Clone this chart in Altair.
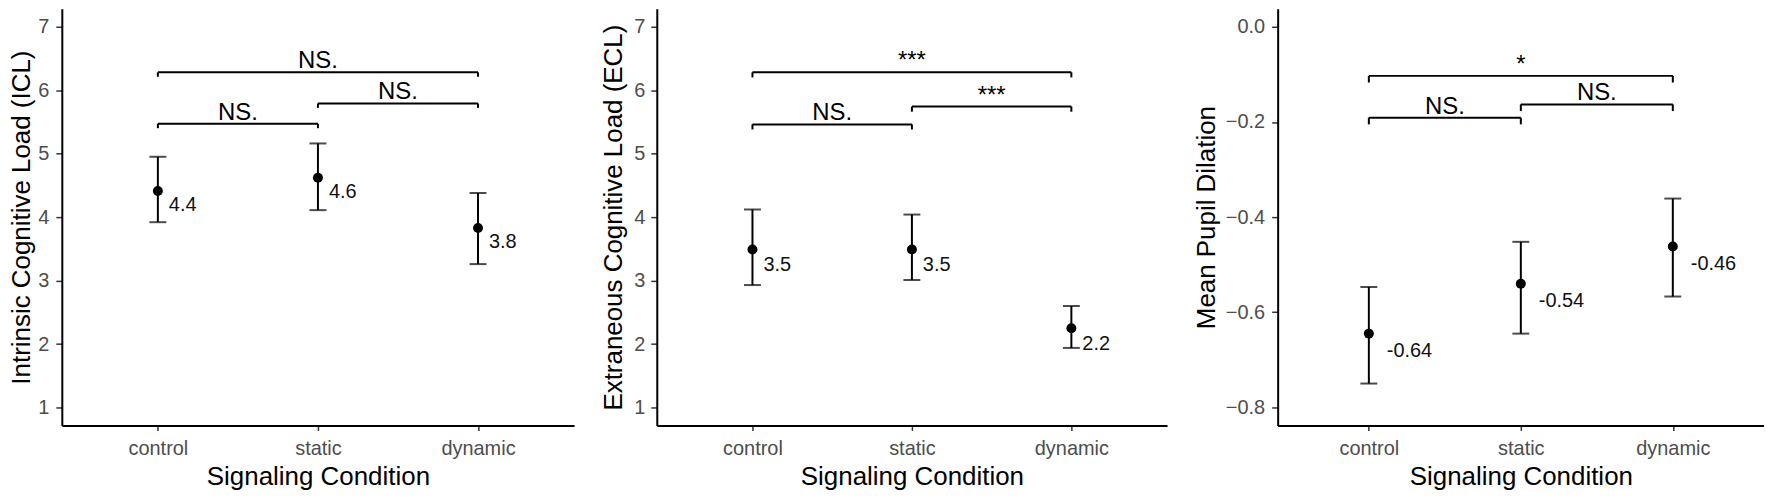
import altair as alt
import pandas as pd

conditions = ["control", "static", "dynamic"]

icl_mean = [4.41, 4.62, 3.83]
icl_lo = [3.92, 4.11, 3.26]
icl_hi = [4.95, 5.16, 4.38]
icl_labels = ["4.4", "4.6", "3.8"]

ecl_mean = [3.49, 3.49, 2.25]
ecl_lo = [2.93, 3.01, 1.94]
ecl_hi = [4.12, 4.04, 2.60]
ecl_labels = ["3.5", "3.5", "2.2"]

pupil_mean = [-0.645, -0.540, -0.462]
pupil_lo = [-0.750, -0.645, -0.567]
pupil_hi = [-0.547, -0.452, -0.361]
pupil_labels = ["-0.64", "-0.54", "-0.46"]

bracket_from = ["control", "static", "control"]
bracket_to = ["static", "dynamic", "dynamic"]
icl_bracket_y = [5.47, 5.79, 6.28]
icl_bracket_text = ["NS.", "NS.", "NS."]
ecl_bracket_y = [5.46, 5.74, 6.28]
ecl_bracket_text = ["NS.", "***", "***"]
pupil_bracket_y = [-0.191, -0.163, -0.103]
pupil_bracket_text = ["NS.", "NS.", "*"]

FONT = "Liberation Sans"


def panel(mean, lo, hi, labels, by, btext, title, domain, ticks, fmt, tip,
          ldx, ldy, width, label_pad, title_pad):
    pts = pd.DataFrame({
        "cond": conditions,
        "idx": [conditions.index(c) + 1 for c in conditions],
        "mean": mean, "lo": lo, "hi": hi, "label": labels,
    })
    x1 = [conditions.index(c) + 1 for c in bracket_from]
    x2 = [conditions.index(c) + 1 for c in bracket_to]
    br = pd.DataFrame({
        "x1": x1, "x2": x2,
        "xm": [(a + b) / 2 for a, b in zip(x1, x2)],
        "y": by,
        "ytip": [v - tip for v in by],
        "text": btext,
    })
    xscale = alt.Scale(domain=[0.4, 3.6], nice=False, zero=False)
    yscale = alt.Scale(domain=domain, nice=False, zero=False)
    xaxis = alt.Axis(values=[1, 2, 3], title="Signaling Condition",
                     labelExpr="['control','static','dynamic'][datum.value-1]",
                     tickSize=5, labelPadding=8, titlePadding=5)
    yaxis = alt.Axis(values=ticks, format=fmt, title=title, tickSize=6,
                     labelPadding=label_pad, titlePadding=title_pad)

    base_b = alt.Chart(br)
    hline = base_b.mark_rule(color="black", strokeWidth=2).encode(
        x=alt.X("x1:Q", scale=xscale, axis=xaxis),
        x2="x2:Q",
        y=alt.Y("y:Q", scale=yscale, axis=yaxis),
    )
    tl = base_b.mark_rule(color="black", strokeWidth=2).encode(
        x="x1:Q", y="y:Q", y2="ytip:Q")
    tr = base_b.mark_rule(color="black", strokeWidth=2).encode(
        x="x2:Q", y="y:Q", y2="ytip:Q")
    btxt = base_b.mark_text(font=FONT, fontSize=24, baseline="alphabetic",
                            dy=-4, color="black").encode(
        x="xm:Q", y="y:Q", text="text:N")

    base_p = alt.Chart(pts)
    err = base_p.mark_rule(color="black", strokeWidth=2).encode(
        x="idx:Q", y="lo:Q", y2="hi:Q")
    cap_lo = base_p.mark_tick(color="black", size=17, thickness=2,
                              orient="horizontal").encode(x="idx:Q", y="lo:Q")
    cap_hi = base_p.mark_tick(color="black", size=17, thickness=2,
                              orient="horizontal").encode(x="idx:Q", y="hi:Q")
    dot = base_p.mark_circle(color="black", size=100, opacity=1).encode(
        x="idx:Q", y="mean:Q")
    lab = base_p.mark_text(font=FONT, fontSize=20, align="left",
                           baseline="middle", dx=ldx, dy=ldy,
                           color="#111111").encode(
        x="idx:Q", y="mean:Q", text="label:N")

    return alt.layer(hline, tl, tr, btxt, err, cap_lo, cap_hi, dot, lab).properties(
        width=width, height=418)


p1 = panel(icl_mean, icl_lo, icl_hi, icl_labels, icl_bracket_y, icl_bracket_text,
           "Intrinsic Cognitive Load (ICL)", [0.72, 7.28], [1, 2, 3, 4, 5, 6, 7],
           "d", 0.07, 11, 14, 514, 7, 3)
p2 = panel(ecl_mean, ecl_lo, ecl_hi, ecl_labels, ecl_bracket_y, ecl_bracket_text,
           "Extraneous Cognitive Load (ECL)", [0.72, 7.28], [1, 2, 3, 4, 5, 6, 7],
           "d", 0.08, 11, 16, 512, 6, 7)
p3 = panel(pupil_mean, pupil_lo, pupil_hi, pupil_labels, pupil_bracket_y,
           pupil_bracket_text, "Mean Pupil Dilation", [-0.838, 0.038],
           [-0.8, -0.6, -0.4, -0.2, 0.0], ".1f", 0.014, 18, 17, 488, 7, 6)

chart = alt.hconcat(p1, p2, p3, spacing=26).properties(
    padding={"left": 0, "top": 0, "right": 0, "bottom": 0},
    background="white",
).configure_view(stroke=None).configure_axis(
    grid=False, domainColor="black", domainWidth=2, tickColor="#333333",
    tickWidth=1.5, labelColor="#4D4D4D", labelFont=FONT, labelFontSize=20,
    titleFont=FONT, titleFontSize=26, titleFontWeight="normal", titleColor="black",
)

chart.save("out.html", embed_options={"renderer": "svg", "actions": False})
